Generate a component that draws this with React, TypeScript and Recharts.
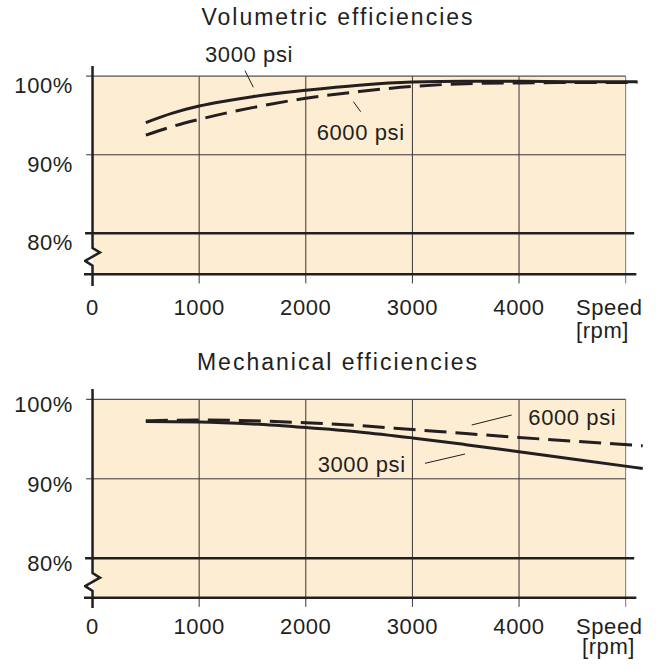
import { LineChart, Line, XAxis, YAxis, ReferenceLine, ReferenceArea } from "recharts"

const INK = "#231F20"
const PAPER = "#FDEDD2"
const FONT = "'Liberation Sans', Arial, Helvetica, sans-serif"

const speedTicks = [0, 1000, 2000, 3000, 4000, 5000]
const percentTicks = [80, 90, 100]

// Volumetric efficiencies (top panel)
const volSpeeds = [500, 750, 1000, 1250, 1500, 2000, 2500, 3000, 3500, 4000, 4500, 5110]
const vol3000 = [94.1, 95.3, 96.2, 96.85, 97.4, 98.2, 98.85, 99.25, 99.35, 99.35, 99.3, 99.3]
const vol6000 = [92.5, 93.6, 94.5, 95.3, 96.0, 97.2, 98.05, 98.7, 99.05, 99.15, 99.2, 99.2]

// Mechanical efficiencies (bottom panel)
const mechSpeeds = [500, 1000, 1500, 2000, 2500, 3000, 3500, 4000, 4500, 5160]
const mech3000 = [97.2, 97.15, 96.9, 96.45, 95.9, 95.15, 94.3, 93.4, 92.5, 91.3]
const mech6000 = [97.3, 97.4, 97.3, 97.05, 96.7, 96.2, 95.7, 95.2, 94.75, 94.15]

const volData = volSpeeds.map((speed, i) => ({ speed, p3000: vol3000[i], p6000: vol6000[i] }))
const mechData = mechSpeeds.map((speed, i) => ({ speed, p3000: mech3000[i], p6000: mech6000[i] }))

type Pt = { x: number; y: number }

const SpeedTick = (props: any) => {
    const { x, y, payload, base, rpmDy, rpmDx } = props
    if (payload.value === 5000) {
        return (
            <text fill={INK} fontSize={22} fontFamily={FONT} letterSpacing={0.6}>
                <tspan x={x - 49.7} y={y + base}>Speed</tspan>
                <tspan x={x - 49.7 + rpmDx} y={y + base + rpmDy}>[rpm]</tspan>
            </text>
        )
    }
    return (
        <text x={x} y={y + base} textAnchor="middle" fill={INK} fontSize={22} fontFamily={FONT} letterSpacing={0.6}>
            {payload.value}
        </text>
    )
}

const PercentTick = (props: any) => {
    const { x, y, payload, off } = props
    return (
        <text x={x - 11} y={y + off} textAnchor="end" fill={INK} fontSize={22} fontFamily={FONT} letterSpacing={0.6}>
            {payload.value}%
        </text>
    )
}

interface PanelProps {
    data: Array<{ speed: number; p3000: number; p6000: number }>
    top: number
    height: number
    xAxisHeight: number
    yDomain: [number, number]
    axisBottom: number
    xBase: number
    yOff: number
    rpmDy: number
    rpmDx: number
    leaders: Pt[][]
}

function Panel({ data, top, height, xAxisHeight, yDomain, axisBottom, xBase, yOff, rpmDy, rpmDx, leaders }: PanelProps) {
    // y axis with the break zigzag below 80%
    const axisPath = [
        { speed: 0, pct: yDomain[1] },
        { speed: 0, pct: 78.14 },
        { speed: 70, pct: 77.57 },
        { speed: -70, pct: 76.5 },
        { speed: 0, pct: 75.9 },
        { speed: 0, pct: yDomain[0] },
    ]
    const tickEnd = axisBottom - 1.15
    return (
        <div style={{ position: "absolute", left: 0, top }}>
            <LineChart width={658} height={height} margin={{ top: 66, right: 11, bottom: 0, left: 0 }}>
                <XAxis
                    dataKey="speed"
                    type="number"
                    domain={[-80, 5200]}
                    allowDataOverflow
                    ticks={speedTicks}
                    interval={0}
                    axisLine={false}
                    tickLine={false}
                    tickSize={0}
                    tickMargin={0}
                    height={xAxisHeight}
                    tick={(p: any) => <SpeedTick {...p} base={xBase} rpmDy={rpmDy} rpmDx={rpmDx} />}
                />
                <YAxis
                    type="number"
                    domain={yDomain}
                    allowDataOverflow
                    ticks={percentTicks}
                    interval={0}
                    axisLine={false}
                    tickLine={false}
                    tickSize={0}
                    tickMargin={0}
                    width={84}
                    tick={(p: any) => <PercentTick {...p} off={yOff} />}
                />

                <ReferenceArea x1={0} x2={5000} y1={axisBottom} y2={100} fill={PAPER} fillOpacity={1} stroke="none" />

                {/* vertical grid, running down past the axis as ticks */}
                {speedTicks.slice(1).map((s) => (
                    <ReferenceLine
                        key={s}
                        segment={[{ x: s, y: 100 }, { x: s, y: tickEnd }]}
                        stroke={s === 5000 ? "#7a7672" : "#3a3638"}
                        strokeWidth={1}
                        ifOverflow="visible"
                    />
                ))}

                <ReferenceLine segment={[{ x: -60, y: 100 }, { x: 5000, y: 100 }]} stroke="#55504d" strokeWidth={1.2} ifOverflow="visible" />
                <ReferenceLine segment={[{ x: -60, y: 90 }, { x: 5000, y: 90 }]} stroke="#3a3638" strokeWidth={1} ifOverflow="visible" />
                <ReferenceLine segment={[{ x: -70, y: 80 }, { x: 5080, y: 80 }]} stroke={INK} strokeWidth={2.5} ifOverflow="visible" />
                <ReferenceLine
                    segment={[{ x: -80, y: axisBottom }, { x: 5100, y: axisBottom }]}
                    stroke={INK}
                    strokeWidth={2.5}
                    ifOverflow="visible"
                />

                {leaders.map((seg, i) => (
                    <ReferenceLine key={"l" + i} segment={seg} stroke={INK} strokeWidth={1} ifOverflow="visible" />
                ))}

                <Line
                    data={axisPath}
                    dataKey="pct"
                    type="linear"
                    stroke={INK}
                    strokeWidth={2.5}
                    dot={false}
                    activeDot={false}
                    isAnimationActive={false}
                />
                <Line
                    data={data}
                    dataKey="p6000"
                    type="monotone"
                    stroke={INK}
                    strokeWidth={3}
                    strokeDasharray="22 9"
                    dot={false}
                    activeDot={false}
                    isAnimationActive={false}
                />
                <Line
                    data={data}
                    dataKey="p3000"
                    type="monotone"
                    stroke={INK}
                    strokeWidth={3}
                    dot={false}
                    activeDot={false}
                    isAnimationActive={false}
                />
            </LineChart>
        </div>
    )
}

const topLeaders: Pt[][] = [
    [{ x: 1430, y: 100.7 }, { x: 1508, y: 98.59 }],
    [{ x: 2446, y: 96.76 }, { x: 2515, y: 95.48 }],
]
const bottomLeaders: Pt[][] = [
    [{ x: 3556, y: 96.77 }, { x: 3931, y: 98.03 }],
    [{ x: 3118, y: 91.95 }, { x: 3493, y: 93.12 }],
]

export default function App() {
    const txt = { fill: INK, fontSize: 22, fontFamily: FONT, letterSpacing: 0.6 }
    const title = { fill: INK, fontSize: 23, fontFamily: FONT, letterSpacing: 2 }
    return (
        <div style={{ position: "absolute", left: 0, top: 0, width: 658, height: 668, background: "#fff", overflow: "hidden" }}>
            <Panel
                data={volData}
                top={0}
                height={360}
                xAxisHeight={74}
                yDomain={[73.3, 101.3]}
                axisBottom={74.78}
                xBase={29.4}
                yOff={16.8}
                rpmDy={23}
                rpmDx={0}
                leaders={topLeaders}
            />
            <Panel
                data={mechData}
                top={323}
                height={345}
                xAxisHeight={60}
                yDomain={[73.75, 101.3]}
                axisBottom={75.04}
                xBase={26}
                yOff={13}
                rpmDy={20}
                rpmDx={6}
                leaders={bottomLeaders}
            />
            <svg width={658} height={668} style={{ position: "absolute", left: 0, top: 0, pointerEvents: "none" }}>
                <text x={338} y={25} textAnchor="middle" {...title}>Volumetric efficiencies</text>
                <text x={338} y={370} textAnchor="middle" {...title}>Mechanical efficiencies</text>
                <text x={205} y={62.3} {...txt}>3000 psi</text>
                <text x={316.7} y={139.5} {...txt}>6000 psi</text>
                <text x={528.3} y={425} {...txt}>6000 psi</text>
                <text x={317.7} y={471.7} {...txt}>3000 psi</text>
            </svg>
        </div>
    )
}
